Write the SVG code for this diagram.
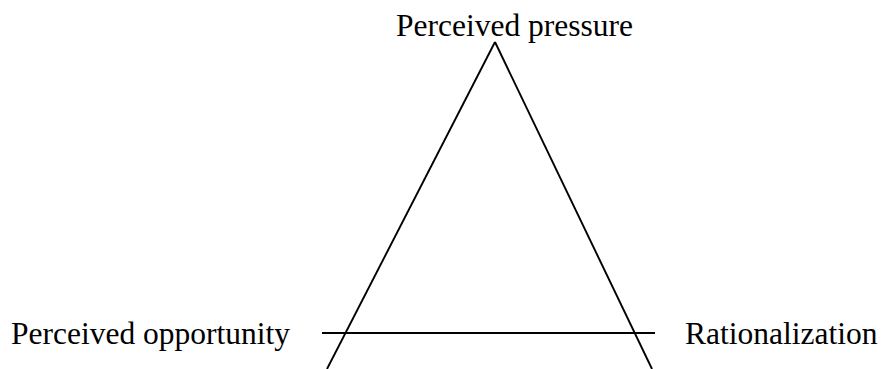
<svg xmlns="http://www.w3.org/2000/svg" width="883" height="369" viewBox="0 0 883 369">
<style>
.lbl{font-family:"Liberation Serif","Times New Roman",serif;font-size:31.5px;fill:#000}
.ln{stroke:#000;stroke-width:1.9;fill:none;stroke-linecap:butt}
</style>
<rect width="883" height="369" fill="#fff"/>
<g id="connectors">
<line class="ln" x1="495" y1="42" x2="327" y2="369"/>
<line class="ln" x1="495" y1="42" x2="652" y2="369"/>
<line class="ln" x1="322" y1="333" x2="655" y2="333"/>
</g>
<g id="pressure"><text class="lbl" x="396" y="36">Perceived pressure</text></g>
<g id="opportunity"><text class="lbl" x="11" y="344">Perceived opportunity</text></g>
<g id="rationalization"><text class="lbl" x="685" y="344">Rationalization</text></g>
</svg>
